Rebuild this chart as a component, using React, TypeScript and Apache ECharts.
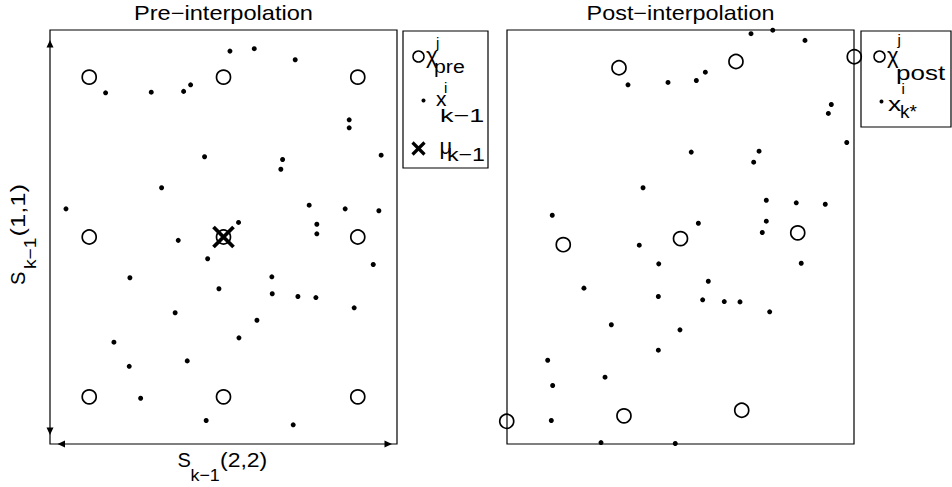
import React, { useEffect, useRef } from "react";
import * as echarts from "echarts";

// Normalised units: sigma-point spacing = 1 in each direction
const preSigma: number[][] = [
  [-1, 1], [0, 1], [1, 1],
  [-1, 0], [0, 0], [1, 0],
  [-1, -1], [0, -1], [1, -1],
];
const preMean: number[][] = [[0, 0]];
const prePoints: number[][] = [
  [0.048, 1.163], [0.229, 1.178], [0.534, 1.109], [-0.878, 0.902], [-0.538, 0.906],
  [-0.297, 0.911], [-0.245, 0.952], [0.936, 0.733], [0.936, 0.683], [-0.141, 0.502],
  [0.44, 0.485], [0.427, 0.424], [1.174, 0.512], [-0.461, 0.308], [-1.173, 0.176],
  [0.638, 0.199], [0.906, 0.176], [1.157, 0.164], [0.112, 0.091], [0.695, 0.08],
  [0.695, 0.02], [-0.337, -0.021], [-0.118, -0.136], [1.115, -0.172], [-0.697, -0.255],
  [0.36, -0.249], [-0.034, -0.324], [0.363, -0.355], [0.554, -0.372], [0.688, -0.379],
  [0.973, -0.443], [-0.36, -0.474], [0.249, -0.521], [0.115, -0.631], [-0.816, -0.658],
  [-0.27, -0.775], [-0.702, -0.809], [-0.617, -1.009], [-0.129, -1.148], [0.519, -1.175],
];
const postSigma: number[][] = [
  [-0.458, 1.059], [0.413, 1.098], [1.294, 1.128],
  [-0.873, -0.048], [0.0, -0.01], [0.873, 0.026],
  [-1.294, -1.153], [-0.421, -1.119], [0.456, -1.084],
];
const postPoints: number[][] = [
  [0.525, 1.272], [0.687, 1.294], [0.927, 1.23], [-0.391, 0.952], [-0.093, 0.967],
  [0.118, 0.979], [0.185, 1.031], [1.123, 0.829], [1.101, 0.773], [1.238, 0.591],
  [0.08, 0.531], [0.585, 0.537], [0.545, 0.468], [-0.279, 0.308], [-0.955, 0.136],
  [0.639, 0.23], [0.862, 0.214], [1.078, 0.205], [0.133, 0.086], [0.639, 0.099],
  [0.609, 0.028], [-0.307, -0.051], [-0.162, -0.168], [0.899, -0.164], [-0.719, -0.32],
  [0.207, -0.277], [-0.165, -0.372], [0.165, -0.393], [0.326, -0.404], [0.443, -0.406],
  [0.664, -0.468], [-0.515, -0.549], [-0.004, -0.581], [-0.165, -0.708], [-0.989, -0.771],
  [-0.562, -0.877], [-0.952, -0.929], [-0.962, -1.148], [-0.592, -1.286], [-0.039, -1.292],
];
const titles = ["Pre\u2212interpolation", "Post\u2212interpolation"];

const FONT = "'Liberation Sans', Arial, Helvetica, sans-serif";
const XR = 1.292;
const YR = 1.295;

function txt(x: number, y: number, text: string, size: number, align = "left", sx = 1) {
  return {
    type: "text",
    x,
    y,
    scaleX: sx,
    silent: true,
    style: {
      text,
      fill: "#000",
      font: `${size}px ${FONT}`,
      textAlign: align,
      textVerticalAlign: "middle",
    },
  };
}

export default function App() {
  const ref = useRef<HTMLDivElement>(null);
  useEffect(() => {
    const chart = echarts.init(ref.current!, null, { renderer: "svg" });
    const axisHidden = { show: false };
    const mkX = (i: number) => ({
      type: "value", gridIndex: i, min: -XR, max: XR,
      axisLine: axisHidden, axisTick: axisHidden, axisLabel: axisHidden, splitLine: axisHidden,
    });
    const mkY = (i: number) => ({
      type: "value", gridIndex: i, min: -YR, max: YR,
      axisLine: axisHidden, axisTick: axisHidden, axisLabel: axisHidden, splitLine: axisHidden,
    });
    const circleStyle = { color: "rgba(0,0,0,0)", borderColor: "#000", borderWidth: 1.7, opacity: 1 };
    const dotStyle = { color: "#000", opacity: 1 };
    const lw = { stroke: "#000", lineWidth: 1.2 };

    chart.setOption({
      animation: false,
      backgroundColor: "#fff",
      grid: [
        { left: 50, top: 30, width: 347, height: 414, show: true, borderColor: "#000", borderWidth: 1.2, backgroundColor: "transparent" },
        { left: 507, top: 30, width: 347, height: 414, show: true, borderColor: "#000", borderWidth: 1.2, backgroundColor: "transparent" },
      ],
      xAxis: [mkX(0), mkX(1)],
      yAxis: [mkY(0), mkY(1)],
      series: [
        { type: "scatter", xAxisIndex: 0, yAxisIndex: 0, data: preSigma, symbol: "circle", symbolSize: 14, itemStyle: circleStyle, clip: false, silent: true },
        { type: "scatter", xAxisIndex: 0, yAxisIndex: 0, data: prePoints, symbol: "circle", symbolSize: 5, itemStyle: dotStyle, clip: false, silent: true },
        { type: "scatter", xAxisIndex: 0, yAxisIndex: 0, data: preMean, symbol: "path://M0 0L10 10M10 0L0 10", symbolSize: 20, itemStyle: { color: "none", borderColor: "#000", borderWidth: 3.8, opacity: 1 }, clip: false, silent: true },
        { type: "scatter", xAxisIndex: 1, yAxisIndex: 1, data: postSigma, symbol: "circle", symbolSize: 14, itemStyle: circleStyle, clip: false, silent: true },
        { type: "scatter", xAxisIndex: 1, yAxisIndex: 1, data: postPoints, symbol: "circle", symbolSize: 5, itemStyle: dotStyle, clip: false, silent: true },
      ],
      graphic: [
        // titles
        txt(223.5, 13, titles[0], 20, "center", 1.18),
        txt(680.5, 13, titles[1], 20, "center", 1.17),
        // arrowheads on left panel axes
        { type: "polygon", silent: true, shape: { points: [[50, 40], [46.5, 47.5], [53.5, 47.5]] }, style: { fill: "#000" } },
        { type: "polygon", silent: true, shape: { points: [[50, 435], [46.5, 427.5], [53.5, 427.5]] }, style: { fill: "#000" } },
        { type: "polygon", silent: true, shape: { points: [[57.5, 444], [65, 440.5], [65, 447.5]] }, style: { fill: "#000" } },
        { type: "polygon", silent: true, shape: { points: [[392, 444], [384.5, 440.5], [384.5, 447.5]] }, style: { fill: "#000" } },
        // x label S_{k-1}(2,2)
        txt(177.5, 460, "S", 20),
        txt(190.5, 475, "k\u22121", 17, "left", 1.05),
        txt(220, 460, "(2,2)", 20, "left", 1.15),
        // y label rotated S_{k-1}(1,1)
        {
          type: "group", x: 0, y: 285, rotation: Math.PI / 2, silent: true,
          children: [
            txt(0, 18, "S", 20),
            txt(16, 30.5, "k\u22121", 17, "left", 1.13),
            txt(48.5, 18, "(1,1)", 20, "left", 1.28),
          ],
        },
        // left legend
        { type: "rect", silent: true, shape: { x: 403, y: 31, width: 85, height: 137 }, style: { fill: "#fff", ...lw } },
        { type: "circle", silent: true, shape: { cx: 418.5, cy: 56.5, r: 5.5 }, style: { fill: "none", stroke: "#000", lineWidth: 1.5 } },
        txt(426, 55, "\u03c7", 22),
        txt(436, 42, "j", 15),
        txt(434, 66.5, "pre", 19, "left", 1.12),
        { type: "circle", silent: true, shape: { cx: 423.5, cy: 100.5, r: 2 }, style: { fill: "#000" } },
        txt(436, 98.5, "x", 21),
        txt(444, 87, "i", 15),
        txt(440, 115, "k\u22121", 19, "left", 1.42),
        { type: "line", silent: true, shape: { x1: 412.5, y1: 142.5, x2: 424.5, y2: 154.5 }, style: { stroke: "#000", lineWidth: 3.2 } },
        { type: "line", silent: true, shape: { x1: 424.5, y1: 142.5, x2: 412.5, y2: 154.5 }, style: { stroke: "#000", lineWidth: 3.2 } },
        txt(439.5, 146, "\u03bc", 22),
        txt(447, 154.5, "k\u22121", 19, "left", 1.22),
        // right legend
        { type: "rect", silent: true, shape: { x: 861, y: 31, width: 90, height: 96 }, style: { fill: "#fff", ...lw } },
        { type: "circle", silent: true, shape: { cx: 879.5, cy: 56.5, r: 5.5 }, style: { fill: "none", stroke: "#000", lineWidth: 1.5 } },
        txt(887, 55, "\u03c7", 22),
        txt(897.5, 39, "j", 15),
        txt(896, 73, "post", 20, "left", 1.3),
        { type: "circle", silent: true, shape: { cx: 881.5, cy: 101.5, r: 2 }, style: { fill: "#000" } },
        txt(888, 103, "x", 21, "left", 1.25),
        txt(901.5, 88.5, "i", 15),
        txt(900, 111, "k*", 19),
      ],
    });
    return () => chart.dispose();
  }, []);
  return (
    <div
      ref={ref}
      style={{ position: "fixed", left: 0, top: 0, width: 952, height: 487 }}
    />
  );
}
